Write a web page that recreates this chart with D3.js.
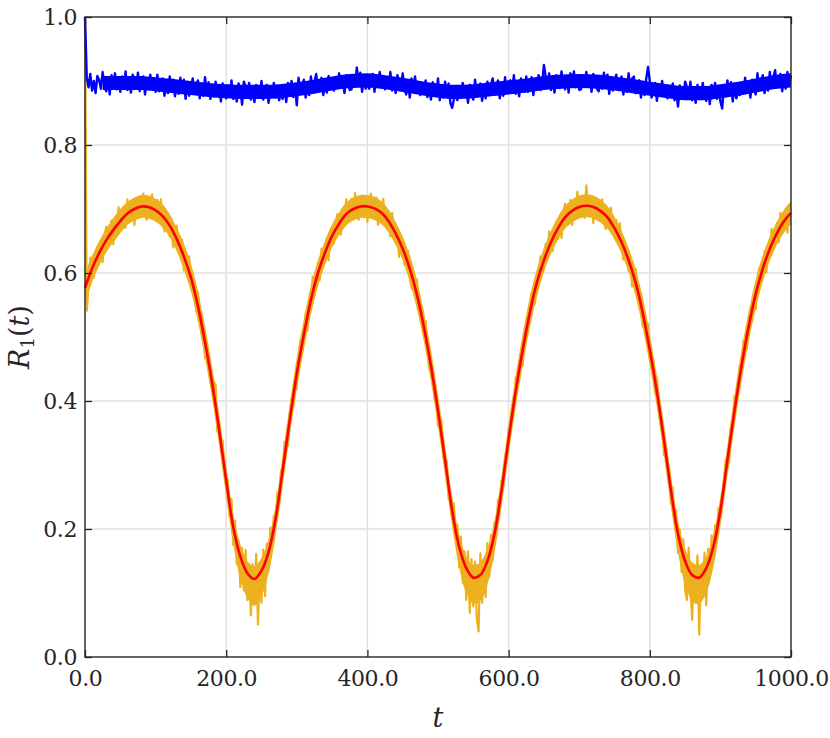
<!DOCTYPE html>
<html>
<head>
<meta charset="utf-8">
<script src="https://cdn.jsdelivr.net/npm/d3@7"></script>
<style>
  body { margin: 0; background: #fff; }
  text { font-family: "DejaVu Serif", "Liberation Serif", "Times New Roman", serif; fill: #262626; }
</style>
</head>
<body>
<script>
// t axis runs 0..1000, noisy series sampled every 2.5, smooth fit every 10
const xTicks = [0, 200, 400, 600, 800, 1000];
const yTicks = [0, 0.2, 0.4, 0.6, 0.8, 1.0];

// blue: R1(t) of the strongly coupled run
const blueR = [1.000,
  .906,.890,.911,.885,.900,.881,.908,.902,.888,.914,
  .893,.884,.905,.879,.909,.895,.912,.887,.903,.883,
  .907,.891,.915,.886,.898,.882,.910,.901,.889,.913,
  .884,.893,.907,.879,.903,.891,.910,.887,.898,.883,
  .910,.884,.898,.904,.877,.896,.881,.907,.886,.902,
  .876,.896,.880,.905,.888,.902,.872,.898,.877,.886,
  .904,.880,.892,.901,.873,.889,.877,.906,.882,.898,
  .872,.887,.876,.899,.880,.892,.868,.896,.882,.873,
  .893,.877,.901,.872,.884,.868,.896,.887,.863,.899,
  .892,.876,.897,.871,.886,.867,.894,.888,.874,.900,
  .871,.880,.894,.866,.890,.878,.897,.874,.885,.870,
  .881,.872,.893,.867,.897,.883,.900,.875,.891,.862,
  .905,.881,.893,.902,.874,.890,.878,.907,.883,.899,
  .911,.885,.899,.905,.878,.897,.882,.908,.887,.903,
  .885,.900,.889,.912,.893,.905,.881,.909,.895,.886,
  .887,.907,.891,.921,.899,.913,.883,.909,.888,.897,
  .888,.897,.911,.883,.907,.895,.914,.891,.902,.887,
  .906,.890,.914,.885,.897,.881,.909,.900,.888,.912,
  .888,.879,.900,.874,.904,.890,.907,.882,.898,.878,
  .896,.880,.901,.875,.890,.871,.898,.892,.878,.904,
  .870,.890,.874,.899,.882,.896,.866,.858,.871,.880,
  .870,.885,.874,.897,.878,.890,.866,.894,.880,.871,
  .902,.876,.890,.896,.869,.888,.873,.899,.878,.894,
  .904,.880,.892,.901,.873,.889,.877,.906,.882,.898,
  .901,.885,.909,.880,.892,.876,.904,.895,.883,.907,
  .883,.892,.906,.878,.902,.890,.909,.886,.897,.925,
  .907,.891,.912,.886,.901,.882,.909,.903,.889,.915,
  .896,.887,.908,.882,.912,.898,.915,.890,.906,.886,
  .887,.902,.891,.914,.895,.907,.883,.911,.897,.888,
  .884,.904,.888,.913,.896,.910,.880,.906,.885,.894,
  .910,.886,.898,.907,.879,.895,.883,.912,.888,.904,
  .907,.881,.895,.901,.874,.893,.878,.904,.922,.899,
  .874,.883,.897,.869,.893,.881,.900,.877,.888,.873,
  .891,.875,.896,.870,.885,.860,.893,.887,.873,.899,
  .891,.875,.899,.870,.882,.866,.894,.885,.873,.897,
  .878,.869,.890,.864,.894,.880,.897,.872,.888,.868,
  .857,.892,.876,.901,.884,.898,.868,.894,.873,.882,
  .878,.893,.882,.905,.886,.898,.874,.902,.888,.879,
  .912,.888,.900,.909,.881,.897,.885,.914,.890,.906,
  .917,.891,.905,.911,.884,.903,.888,.914,.893,.909
];

// solid core of the blue band, read every 25 time units
const blueTop = [.908,.908,.908,.908,.906,.903,.900,.897,.895,.894,.894,.895,.898,.902,
  .907,.911,.912,.909,.905,.900,.896,.894,.895,.898,.901,.904,.908,.910,.911,.910,.907,
  .903,.899,.895,.892,.892,.895,.899,.904,.909,.912];
const blueBot = [.886,.886,.886,.886,.884,.881,.878,.875,.873,.872,.872,.873,.876,.880,
  .885,.889,.890,.887,.883,.878,.874,.872,.873,.876,.879,.882,.886,.888,.889,.888,.885,
  .881,.877,.873,.870,.870,.873,.877,.882,.887,.890];

// orange: R1(t) of the weakly coupled run
const orangeR = [1.000,
  .541,.581,.624,.601,.593,.628,.640,.614,.639,.617,
  .658,.672,.641,.656,.682,.645,.678,.665,.703,.668,
  .676,.703,.671,.715,.697,.682,.710,.675,.715,.707,
  .686,.712,.724,.692,.683,.716,.698,.723,.689,.704,
  .714,.683,.715,.683,.665,.691,.693,.657,.672,.640,
  .670,.674,.632,.637,.652,.604,.625,.601,.626,.580,
  .574,.586,.540,.570,.536,.505,.517,.467,.490,.465,
  .428,.437,.430,.425,.352,.368,.331,.338,.286,.282,
  .276,.219,.247,.175,.213,.145,.182,.109,.170,.104,
  .167,.089,.140,.065,.145,.094,.161,.051,.135,.085,
  .168,.095,.177,.134,.202,.168,.221,.204,.257,.239,
  .291,.281,.336,.325,.331,.379,.403,.390,.428,.419,
  .470,.495,.475,.501,.537,.509,.552,.549,.594,.566,
  .582,.616,.589,.638,.626,.617,.650,.620,.666,.663,
  .646,.676,.692,.665,.660,.698,.684,.715,.684,.702,
  .716,.689,.725,.696,.683,.713,.719,.687,.707,.680,
  .715,.724,.688,.698,.718,.675,.703,.685,.716,.675,
  .676,.697,.657,.694,.669,.647,.667,.625,.658,.643,
  .613,.631,.635,.595,.576,.600,.573,.590,.544,.548,
  .547,.505,.525,.480,.450,.464,.453,.403,.406,.361,
  .378,.368,.313,.305,.307,.247,.256,.220,.240,.188,
  .206,.140,.188,.116,.165,.089,.165,.069,.153,.079,
  .149,.059,.040,.162,.085,.154,.094,.178,.125,.191,
  .151,.210,.187,.246,.229,.276,.268,.315,.310,.357,
  .351,.394,.377,.437,.433,.433,.475,.455,.509,.514,
  .507,.546,.570,.550,.552,.598,.590,.626,.601,.626,
  .645,.623,.665,.642,.634,.668,.680,.653,.677,.655,
  .695,.708,.676,.689,.714,.675,.706,.691,.727,.690,
  .696,.720,.686,.737,.707,.689,.715,.678,.716,.705,
  .682,.705,.715,.680,.669,.700,.679,.702,.664,.676,
  .683,.648,.678,.642,.621,.643,.642,.603,.614,.579,
  .606,.606,.559,.559,.569,.516,.531,.500,.520,.467,
  .456,.464,.412,.437,.398,.363,.370,.315,.334,.305,
  .296,.240,.265,.208,.229,.162,.199,.133,.184,.105,
  .089,.171,.111,.058,.143,.084,.159,.035,.138,.101,
  .163,.081,.169,.126,.190,.152,.206,.187,.233,.217,
  .232,.277,.308,.296,.306,.360,.362,.408,.393,.426,
  .456,.444,.494,.480,.481,.525,.544,.525,.557,.543,
  .589,.608,.583,.604,.634,.601,.637,.629,.669,.637,
  .648,.678,.648,.694,.678,.666,.695,.663,.705,.699
];

// solid core of the orange band, read every 10 time units
const orangeTop = [
  .600,.627,.650,.669,.686,.700,.711,.718,.722,.721,
  .716,.707,.692,.671,.646,.615,.572,.517,.454,.380,
  .300,.224,.176,.150,.142,.155,.184,.238,.316,.395,
  .468,.528,.581,.620,.651,.676,.695,.710,.718,.722,
  .722,.719,.712,.699,.680,.657,.628,.590,.540,.480,
  .410,.332,.251,.192,.158,.144,.148,.170,.213,.284,
  .365,.440,.505,.562,.606,.639,.666,.688,.705,.715,
  .721,.723,.721,.715,.705,.688,.666,.639,.606,.562,
  .505,.440,.365,.284,.213,.170,.148,.144,.158,.192,
  .251,.332,.410,.480,.540,.590,.628,.657,.680,.699,
  .712];
const orangeBot = [
  .550,.585,.611,.632,.648,.662,.675,.682,.686,.685,
  .680,.671,.656,.634,.605,.571,.524,.467,.404,.330,
  .250,.176,.122,.092,.080,.095,.130,.190,.267,.345,
  .418,.480,.535,.579,.613,.640,.659,.674,.682,.686,
  .686,.683,.676,.663,.644,.619,.586,.544,.492,.430,
  .360,.283,.204,.140,.100,.083,.088,.113,.163,.234,
  .315,.390,.455,.514,.563,.601,.630,.652,.669,.679,
  .685,.687,.685,.679,.669,.652,.630,.601,.563,.514,
  .455,.390,.315,.234,.163,.113,.088,.083,.100,.140,
  .204,.283,.360,.430,.492,.544,.586,.619,.644,.663,
  .676];

// red: smooth fit of the orange run, one value per 10 time units
const fitR = [
  .577,.607,.631,.651,.667,.681,.693,.700,.704,.703,
  .698,.689,.674,.653,.626,.593,.548,.492,.429,.355,
  .276,.203,.157,.131,.122,.135,.164,.216,.292,.370,
  .443,.504,.558,.600,.632,.658,.677,.692,.700,.704,
  .704,.701,.694,.681,.662,.638,.607,.567,.516,.455,
  .385,.308,.229,.172,.139,.124,.128,.150,.192,.260,
  .340,.415,.480,.538,.585,.620,.648,.670,.687,.697,
  .703,.705,.703,.697,.687,.670,.648,.620,.585,.538,
  .480,.415,.340,.260,.192,.150,.128,.124,.139,.172,
  .229,.308,.385,.455,.516,.567,.607,.638,.662,.681,
  .694
];

const W = 830, H = 738;
const plotL = 85, plotR = 791, plotT = 17, plotB = 657;

const svg = d3.select('body').append('svg')
    .attr('width', W)
    .attr('height', H);

const x = d3.scaleLinear().domain([0, 1000]).range([plotL, plotR]);
const y = d3.scaleLinear().domain([0, 1]).range([plotB, plotT]);

// grid
svg.append('g')
    .selectAll('line')
    .data(xTicks.slice(1, -1))
    .join('line')
    .attr('x1', d => x(d)).attr('x2', d => x(d))
    .attr('y1', plotT).attr('y2', plotB)
    .attr('stroke', '#e1e1e1').attr('stroke-width', 1.5);
svg.append('g')
    .selectAll('line')
    .data(yTicks.slice(1, -1))
    .join('line')
    .attr('x1', plotL).attr('x2', plotR)
    .attr('y1', d => y(d)).attr('y2', d => y(d))
    .attr('stroke', '#e1e1e1').attr('stroke-width', 1.5);

const series = (vals) => vals.map((v, i) => [i * 1000 / (vals.length - 1), v]);
const line = d3.line().x(d => x(d[0])).y(d => y(d[1]));
const bandArea = d3.area().x(d => x(d[0])).y0(d => y(d[2])).y1(d => y(d[1]));

// orange band: core area, then the raw trace
const oBand = orangeTop.map((v, i) => [i * 10, v, orangeBot[i]]);
svg.append('path')
    .datum(oBand)
    .attr('d', bandArea.curve(d3.curveCatmullRom))
    .attr('fill', '#edb120');

svg.append('path')
    .datum(series(orangeR))
    .attr('d', line)
    .attr('fill', 'none')
    .attr('stroke', '#edb120')
    .attr('stroke-width', 2.2)
    .attr('stroke-linejoin', 'round');

// blue band: core area, then the raw trace
const bBand = blueTop.map((v, i) => [i * 25, v, blueBot[i]]);
svg.append('path')
    .datum(bBand.slice(1))
    .attr('d', bandArea.curve(d3.curveMonotoneX))
    .attr('fill', '#0000ff');

svg.append('path')
    .datum(series(blueR))
    .attr('d', line)
    .attr('fill', 'none')
    .attr('stroke', '#0000ff')
    .attr('stroke-width', 2.4)
    .attr('stroke-linejoin', 'round');

svg.append('path')
    .datum(series(fitR))
    .attr('d', d3.line().x(d => x(d[0])).y(d => y(d[1])).curve(d3.curveCatmullRom))
    .attr('fill', 'none')
    .attr('stroke', '#ff0000')
    .attr('stroke-width', 2.6);

// axes, ticks pointing inward on all four sides
const fmt = d3.format('.1f');
const ax = (g) => g.attr('font-family', null)
    .call(s => s.select('.domain').remove())
    .call(s => s.selectAll('line').attr('stroke', '#262626').attr('stroke-width', 1.3))
    .call(s => s.selectAll('text').attr('font-size', 22).attr('letter-spacing', -0.4).attr('fill', '#262626'));

svg.append('g').attr('transform', `translate(0,${plotB})`)
    .call(d3.axisBottom(x).tickValues(xTicks).tickFormat(fmt).tickSize(-7).tickPadding(13))
    .call(ax);
svg.append('g').attr('transform', `translate(0,${plotT})`)
    .call(d3.axisTop(x).tickValues(xTicks).tickFormat('').tickSize(-7))
    .call(ax);
svg.append('g').attr('transform', `translate(${plotL},0)`)
    .call(d3.axisLeft(y).tickValues(yTicks).tickFormat(fmt).tickSize(-7).tickPadding(8))
    .call(ax);
svg.append('g').attr('transform', `translate(${plotR},0)`)
    .call(d3.axisRight(y).tickValues(yTicks).tickFormat('').tickSize(-7))
    .call(ax);

svg.append('rect')
    .attr('x', plotL).attr('y', plotT)
    .attr('width', plotR - plotL).attr('height', plotB - plotT)
    .attr('fill', 'none')
    .attr('stroke', '#262626')
    .attr('stroke-width', 1.4);

// labels
svg.append('text')
    .attr('x', (plotL + plotR) / 2).attr('y', 727)
    .attr('text-anchor', 'middle')
    .attr('font-size', 27)
    .attr('font-style', 'italic')
    .text('t');

const yl = svg.append('text')
    .attr('transform', `translate(29,${(plotT + plotB) / 2}) rotate(-90)`)
    .attr('text-anchor', 'middle')
    .attr('font-size', 27);
yl.append('tspan').attr('font-style', 'italic').text('R');
yl.append('tspan').attr('font-size', 18).attr('dy', 5).text('1');
yl.append('tspan').attr('dy', -5).text('(');
yl.append('tspan').attr('font-style', 'italic').text('t');
yl.append('tspan').text(')');
</script>
</body>
</html>
